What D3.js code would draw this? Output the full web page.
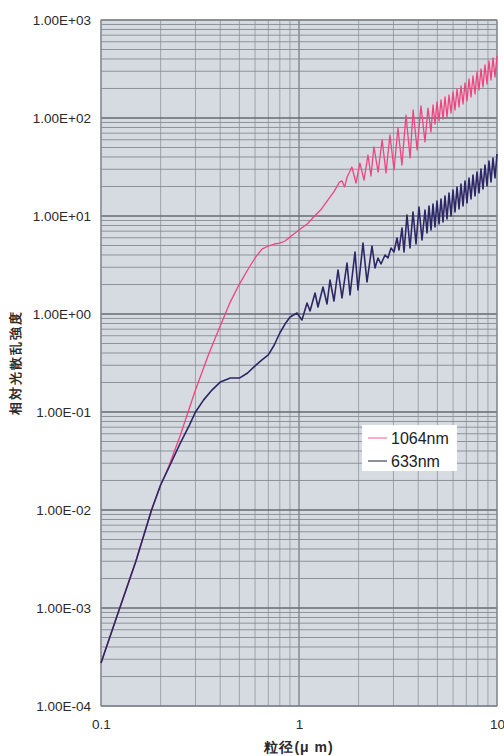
<!DOCTYPE html>
<html>
<head>
<meta charset="utf-8">
<script src="https://cdn.jsdelivr.net/npm/d3@7"></script>
<style>
  body { margin: 0; background: #fff; }
  text { font-family: "Liberation Sans", Arial, sans-serif; }
</style>
</head>
<body>
<div id="chart"></div>
<script>
// particle diameter (um) and relative scattering intensity
var diam1064 = [0.1, 0.12, 0.15, 0.18, 0.2, 0.22, 0.25, 0.3, 0.35, 0.4, 0.45, 0.5, 0.55, 0.6, 0.65, 0.7, 0.75, 0.8, 0.85, 0.9,
    1.0, 1.1, 1.2, 1.3, 1.4, 1.5, 1.6, 1.65, 1.7, 1.75, 1.85, 1.94, 2.03, 2.13, 2.23, 2.31, 2.39, 2.51, 2.63, 2.75,
    2.88, 3.02, 3.16, 3.31, 3.47, 3.64, 3.77, 3.95, 4.13, 4.33, 4.48, 4.64,
    4.751, 4.863, 4.977, 5.095, 5.215, 5.337, 5.463, 5.591, 5.724, 5.858, 5.995, 6.137, 6.281, 6.430, 6.581, 6.735,
    6.893, 7.055, 7.221, 7.391, 7.565, 7.743, 7.925, 8.111, 8.302, 8.497, 8.698, 8.902, 9.112, 9.326, 9.545, 9.770, 10];
var int1064 = [2.75e-4, 8.1e-4, 3.0e-3, 1.0e-2, 1.8e-2, 2.8e-2, 5.6e-2, 0.168, 0.39, 0.755, 1.33, 2.02, 2.81, 3.73, 4.6, 4.94, 5.18, 5.3, 5.56, 6.1,
    7.2, 8.3, 10, 11.8, 14.6, 17.6, 22.2, 22.8, 19.8, 25, 31.6, 21.7, 34.7, 23.3, 41.9, 25.6, 50.6, 28.1, 59.7, 27.5,
    67.1, 29.5, 79.1, 33.1, 107, 39.1, 121, 47.1, 133, 56.9, 126, 72.0,
    135.7, 86.9, 145.7, 93.2, 152.7, 97.7, 163.8, 102.4, 171.7, 112.5, 184.2, 120.7, 197.7, 129.5, 212.1, 138.9,
    227.6, 149.1, 250.0, 163.8, 268.3, 175.8, 294.7, 193.1, 316.2, 207.2, 347.4, 222.3, 381.6, 244.2, 409.5, 262.0, 429.2];

var diam633 = [0.1, 0.12, 0.15, 0.18, 0.2, 0.22, 0.25, 0.28, 0.3, 0.33, 0.36, 0.4, 0.45, 0.5, 0.55, 0.6, 0.65, 0.7, 0.75, 0.8, 0.85,
    0.901, 0.977, 1.035, 1.098, 1.137, 1.205, 1.247, 1.322, 1.385, 1.434, 1.502, 1.574, 1.649, 1.748, 1.810, 1.918, 1.986, 2.105, 2.205, 2.337,
    2.420, 2.506, 2.595, 2.719, 2.815, 2.915, 3.018, 3.126, 3.199, 3.313, 3.391, 3.511, 3.636, 3.765, 3.899, 4.037, 4.181,
    4.329, 4.431, 4.535, 4.642, 4.751, 4.863, 4.977, 5.095, 5.215, 5.337, 5.463, 5.591, 5.724, 5.858, 5.995, 6.137,
    6.281, 6.430, 6.581, 6.735, 6.893, 7.055, 7.221, 7.391, 7.565, 7.743, 7.925, 8.111, 8.302, 8.497, 8.698, 8.902,
    9.112, 9.326, 9.545, 9.770, 10];
var int633 = [2.75e-4, 8.1e-4, 3.0e-3, 1.0e-2, 1.8e-2, 2.7e-2, 0.047, 0.074, 0.1, 0.133, 0.164, 0.202, 0.222, 0.222, 0.25, 0.295, 0.34, 0.382, 0.483, 0.64, 0.79,
    0.932, 1.024, 0.869, 1.295, 1.073, 1.638, 1.179, 1.886, 1.265, 2.223, 1.357, 2.812, 1.457, 3.314, 1.563, 4.293, 1.758, 5.303, 2.121, 4.943,
    2.947, 3.728, 3.237, 4.0, 3.728, 4.715, 4.293, 5.964, 4.499, 7.544, 4.293, 10.24, 4.715, 10.99, 5.179, 12.35, 5.69,
    11.51, 6.708, 12.65, 7.197, 13.26, 7.722, 14.23, 8.287, 14.91, 8.685, 16.0, 9.320, 17.17, 10.0, 18.42, 10.99,
    19.77, 11.79, 21.21, 12.65, 22.76, 13.57, 24.42, 14.91, 26.20, 16.0, 28.12, 17.17, 30.17, 18.86, 33.14, 20.24,
    36.41, 22.23, 39.06, 24.42, 42.92];

var seriesNames = ["1064nm", "633nm"];
var seriesColors = ["#f0447f", "#2c2765"];
var legendColors = ["#f59bb8", "#6f7386"];

var xTicks = [0.1, 1, 10];
var xTickLabels = ["0.1", "1", "10"];
var yTicks = [1e-4, 1e-3, 1e-2, 1e-1, 1, 1e1, 1e2, 1e3];
var yTickLabels = ["1.00E-04", "1.00E-03", "1.00E-02", "1.00E-01", "1.00E+00", "1.00E+01", "1.00E+02", "1.00E+03"];

var w = 504, h = 756;
var mLeft = 101, mTop = 20, pw = 396, ph = 686;

var svg = d3.select("#chart").append("svg")
    .attr("width", w)
    .attr("height", h);

var x = d3.scaleLog().domain([0.1, 10]).range([mLeft, mLeft + pw]);
var y = d3.scaleLog().domain([1e-4, 1e3]).range([mTop + ph, mTop]);

// plot background
svg.append("rect")
    .attr("x", mLeft).attr("y", mTop)
    .attr("width", pw).attr("height", ph)
    .attr("fill", "#d6dae1");

function isDecade(v) { return Math.abs(Math.log10(v) - Math.round(Math.log10(v))) < 1e-9; }

// grid lines, minor and decades
var grid = svg.append("g");
grid.selectAll("line.vx")
    .data(x.ticks())
    .enter().append("line")
    .attr("x1", function(d) { return x(d); }).attr("x2", function(d) { return x(d); })
    .attr("y1", mTop).attr("y2", mTop + ph)
    .attr("stroke", function(d) { return isDecade(d) ? "#6a6f77" : "#90959d"; })
    .attr("stroke-width", function(d) { return isDecade(d) ? 1.1 : 0.8; });
grid.selectAll("line.hy")
    .data(y.ticks())
    .enter().append("line")
    .attr("y1", function(d) { return y(d); }).attr("y2", function(d) { return y(d); })
    .attr("x1", mLeft).attr("x2", mLeft + pw)
    .attr("stroke", function(d) { return isDecade(d) ? "#666b73" : "#868b93"; })
    .attr("stroke-width", function(d) { return isDecade(d) ? 1.3 : 0.9; });

svg.append("rect")
    .attr("x", mLeft).attr("y", mTop)
    .attr("width", pw).attr("height", ph)
    .attr("fill", "none")
    .attr("stroke", "#8d9199")
    .attr("stroke-width", 1);

// curves
var line = d3.line()
    .x(function(d) { return x(d[0]); })
    .y(function(d) { return y(d[1]); });

var curves = [d3.zip(diam1064, int1064), d3.zip(diam633, int633)];
svg.append("g").selectAll("path")
    .data(curves)
    .enter().append("path")
    .attr("d", line)
    .attr("fill", "none")
    .attr("stroke", function(d, i) { return seriesColors[i]; })
    .attr("stroke-width", function(d, i) { return i ? 1.6 : 1.3; })
    .attr("stroke-linejoin", "round");

// axes
var yAxis = svg.append("g")
    .attr("transform", "translate(" + mLeft + ",0)")
    .call(d3.axisLeft(y).tickValues(yTicks)
        .tickFormat(function(d, i) { return yTickLabels[i]; })
        .tickSize(0).tickPadding(10));
var xAxis = svg.append("g")
    .attr("transform", "translate(0," + (mTop + ph) + ")")
    .call(d3.axisBottom(x).tickValues(xTicks)
        .tickFormat(function(d, i) { return xTickLabels[i]; })
        .tickSize(0).tickPadding(13));
[yAxis, xAxis].forEach(function(a) {
    a.select(".domain").remove();
    a.selectAll("text")
        .attr("font-family", "'Liberation Sans', Arial, sans-serif")
        .attr("font-size", 13.5)
        .attr("fill", "#2a2a2a");
});

// axis titles
svg.append("text")
    .attr("transform", "translate(20,362) rotate(-90)")
    .attr("text-anchor", "middle")
    .attr("font-family", "'Noto Sans CJK JP', sans-serif")
    .attr("font-size", 13)
    .attr("font-weight", "bold")
    .attr("letter-spacing", 2)
    .attr("fill", "#2a2a2a")
    .text("相対光散乱強度");

svg.append("text")
    .attr("x", 299)
    .attr("y", 752)
    .attr("text-anchor", "middle")
    .attr("font-family", "'Noto Sans CJK JP', sans-serif")
    .attr("font-size", 14)
    .attr("font-weight", "bold")
    .attr("letter-spacing", 1)
    .attr("fill", "#2a2a2a")
    .text("粒径(μ m)");

// legend
var legend = svg.append("g").attr("transform", "translate(362,425)");
legend.append("rect")
    .attr("width", 95).attr("height", 46)
    .attr("fill", "#fff");
var items = legend.selectAll("g")
    .data(seriesNames)
    .enter().append("g")
    .attr("transform", function(d, i) { return "translate(0," + (13 + i * 23) + ")"; });
items.append("line")
    .attr("x1", 6).attr("x2", 25)
    .attr("stroke", function(d, i) { return legendColors[i]; })
    .attr("stroke-width", 1.6);
items.append("text")
    .attr("x", 29)
    .attr("dy", "0.35em")
    .attr("font-size", 16)
    .attr("fill", "#222")
    .text(function(d) { return d; });
</script>
</body>
</html>
